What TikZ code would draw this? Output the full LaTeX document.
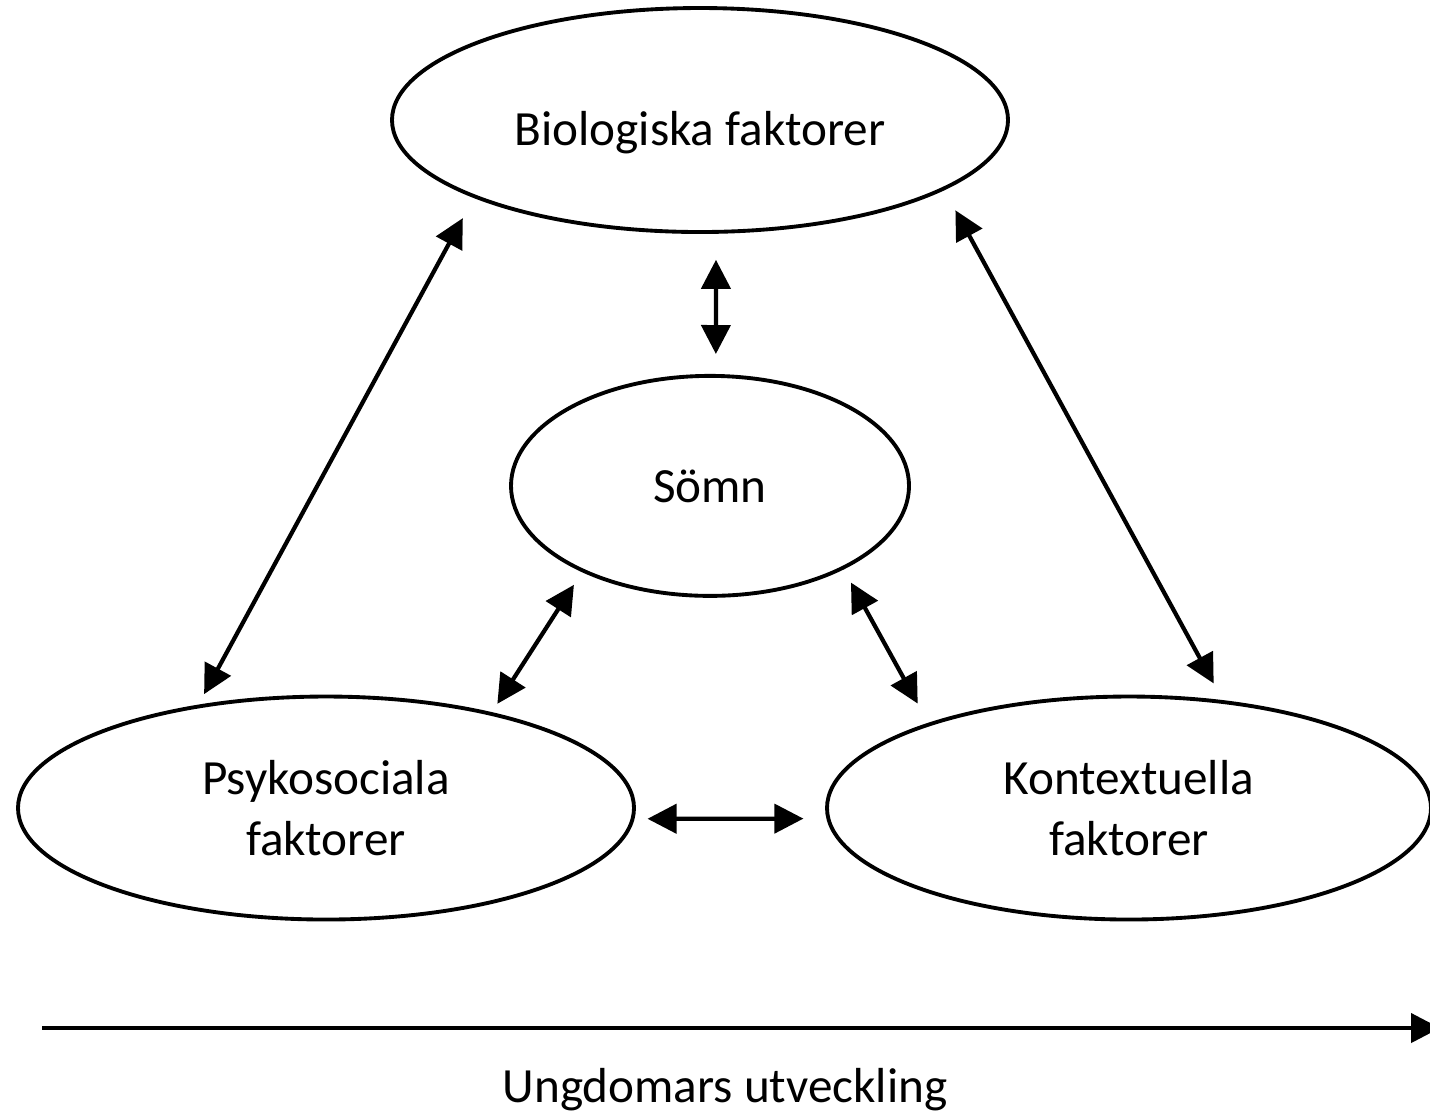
\documentclass[tikz,border=0pt]{standalone}
\usepackage{fontspec}
\setmainfont{Carlito}
\usetikzlibrary{arrows.meta,positioning,shapes.geometric}

\begin{document}
\begin{tikzpicture}[
  oval/.style={
    ellipse,
    draw,
    line width=1.1pt,
    align=center,
    inner sep=0pt,
    font=\fontsize{14}{17.5}\selectfont
  },
  arr/.style={{Triangle[length=2.9mm,width=2.9mm]}-{Triangle[length=2.9mm,width=2.9mm]}, line width=1.2pt},
  axisarr/.style={-{Triangle[length=2.9mm,width=2.9mm]}, line width=1.2pt}
]
\useasboundingbox (0,0) rectangle (14.30,-11.13);

\node[oval, minimum width=6.16cm, minimum height=2.24cm] (bio) at (7.00,-1.20) {\raisebox{-1.3mm}[\height][\depth]{Biologiska faktorer}};
\node[oval, minimum width=3.98cm, minimum height=2.20cm, below=1.40cm of bio, xshift=1mm] (somn) {Sömn};
\node[oval, minimum width=6.16cm, minimum height=2.23cm] (psyko) at (3.26,-8.08) {Psykosociala\\faktorer};
\node[oval, minimum width=6.04cm, minimum height=2.23cm] (kontext) at (11.29,-8.08) {Kontextuella\\faktorer};

\coordinate (axstart) at (0.42,-10.28);
\coordinate (axend) at (14.40,-10.28);
\node[font=\fontsize{14}{17.5}\selectfont] (dev) at (7.25,-10.90) {Ungdomars utveckling};

\draw[arr, shorten <=2.6mm, shorten >=2.0mm] (bio.278) -- (somn.87);
\draw[arr, shorten <=2.3mm, shorten >=1.2mm] (bio.199) -- (psyko.141);
\draw[arr, shorten <=2.3mm, shorten >=1.9mm] (bio.344) -- (kontext.49);
\draw[arr, shorten <=1.5mm, shorten >=1.0mm] (somn.214) -- (psyko.30);
\draw[arr, shorten <=1.5mm, shorten >=2.2mm] (somn.328) -- (kontext.157);
\draw[arr, shorten <=1.3mm, shorten >=2.3mm] (psyko.358) -- (kontext.182);
\draw[axisarr] (axstart) -- (axend);
\end{tikzpicture}
\end{document}
